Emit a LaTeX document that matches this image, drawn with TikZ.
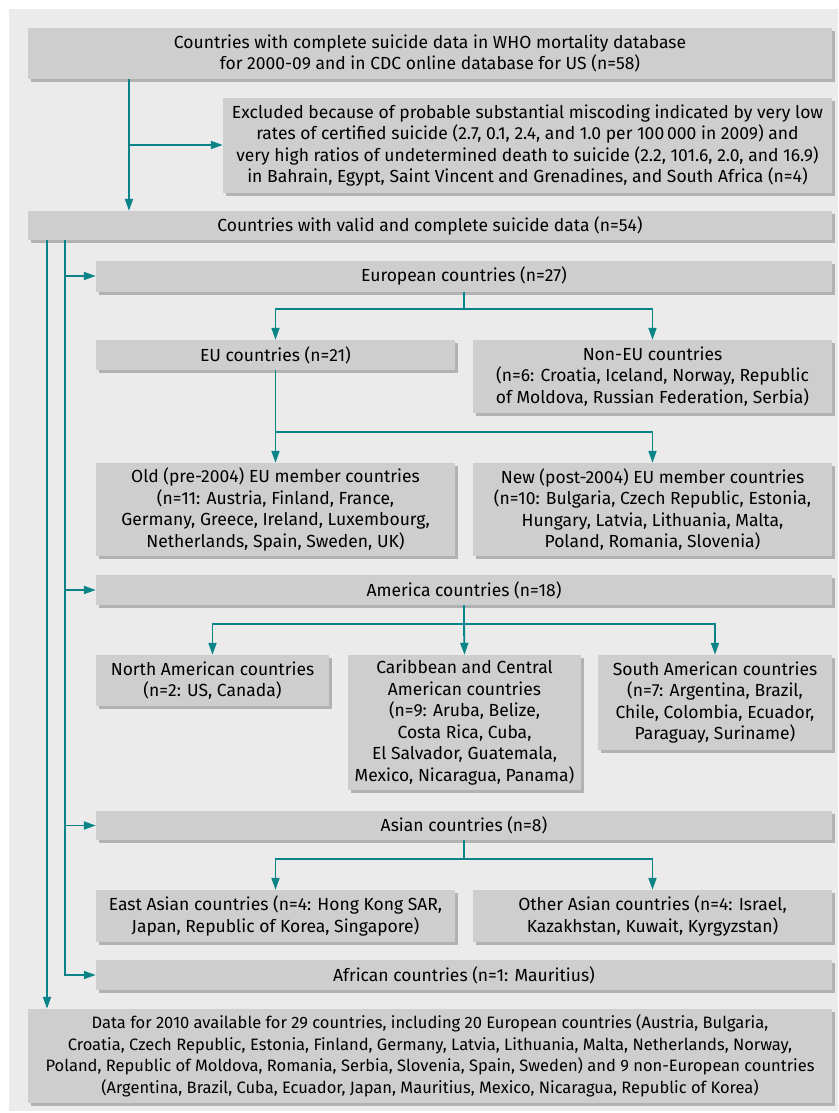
\documentclass[tikz,border=0pt]{standalone}
\usepackage{fontspec}
\setmainfont{Fira Sans}
\usetikzlibrary{arrows.meta,shadows}
\definecolor{panelbg}{RGB}{235,235,235}
\definecolor{boxfill}{RGB}{206,206,206}
\definecolor{boxshadow}{RGB}{178,178,178}
\definecolor{teal}{RGB}{10,132,135}
\tikzset{
  box/.style={fill=boxfill, draw=none, inner sep=0pt, align=center,
    font=\fontsize{17.5}{21.5}\selectfont,
    copy shadow={shadow xshift=3pt, shadow yshift=-3pt, fill=boxshadow, draw=none, opacity=1}},
  smallbox/.style={box, font=\fontsize{16.5}{21.5}\selectfont},
  conn/.style={draw=teal, line width=1.9pt},
  arr/.style={conn, -{Triangle[length=12pt,width=8pt]}}
}
\begin{document}
\begin{tikzpicture}[x=1pt,y=-1pt]
\useasboundingbox (0,0) rectangle (838,1113);
\fill[panelbg] (9,9) rectangle (838,1111);

\node[box, minimum width=804pt, minimum height=51pt] (b1) at (430,53.5)
  {Countries with complete suicide data in WHO mortality database\\for 2000-09 and in CDC online database for US (n=58)};
\node[box, minimum width=609pt, minimum height=94pt] (b2) at (527.5,145.5)
  {Excluded because of probable substantial miscoding indicated by very low\\rates of certified suicide (2.7, 0.1, 2.4, and 1.0 per 100\,000 in 2009) and\\very high ratios of undetermined death to suicide (2.2, 101.6, 2.0, and 16.9)\\in Bahrain, Egypt, Saint Vincent and Grenadines, and South Africa (n=4)};
\node[box, minimum width=804pt, minimum height=29pt] (b3) at (430,225.5)
  {Countries with valid and complete suicide data (n=54)};

\node[box, minimum width=736pt, minimum height=31pt] (eur) at (464,276)
  {European countries (n=27)};
\node[box, minimum width=359pt, minimum height=30pt] (eu) at (275.5,355)
  {EU countries (n=21)};
\node[box, minimum width=359pt, minimum height=73pt] (noneu) at (652.5,376.5)
  {Non-EU countries\\(n=6: Croatia, Iceland, Norway, Republic\\of Moldova, Russian Federation, Serbia)};
\node[box, minimum width=359pt, minimum height=93pt] (old) at (275.5,509.5)
  {Old (pre-2004) EU member countries\\(n=11: Austria, Finland, France,\\Germany, Greece, Ireland, Luxembourg,\\Netherlands, Spain, Sweden, UK)};
\node[box, minimum width=359pt, minimum height=93pt] (new) at (652.5,509.5)
  {New (post-2004) EU member countries\\(n=10: Bulgaria, Czech Republic, Estonia,\\Hungary, Latvia, Lithuania, Malta,\\Poland, Romania, Slovenia)};

\node[box, minimum width=736pt, minimum height=30pt] (amer) at (464,590)
  {America countries (n=18)};
\node[box, minimum width=233pt, minimum height=51pt] (north) at (212.5,680.5)
  {North American countries\\(n=2: US, Canada)};
\node[box, minimum width=233pt, minimum height=135pt] (carib) at (464.5,722.5)
  {Caribbean and Central\\American countries\\(n=9: Aruba, Belize,\\Costa Rica, Cuba,\\El Salvador, Guatemala,\\Mexico, Nicaragua, Panama)};
\node[box, minimum width=234pt, minimum height=95pt] (south) at (715,702.5)
  {South American countries\\(n=7: Argentina, Brazil,\\Chile, Colombia, Ecuador,\\Paraguay, Suriname)};

\node[box, minimum width=736pt, minimum height=29pt] (asian) at (464,825.5)
  {Asian countries (n=8)};
\node[box, minimum width=359pt, minimum height=52pt] (east) at (275.5,916)
  {East Asian countries (n=4: Hong Kong SAR,\\Japan, Republic of Korea, Singapore)};
\node[box, minimum width=359pt, minimum height=52pt] (other) at (652.5,916)
  {Other Asian countries (n=4: Israel,\\Kazakhstan, Kuwait, Kyrgyzstan)};

\node[box, minimum width=736pt, minimum height=30pt] (afr) at (464,975)
  {African countries (n=1: Mauritius)};
\node[smallbox, minimum width=804pt, minimum height=94pt] (final) at (430,1056)
  {Data for 2010 available for 29 countries, including 20 European countries (Austria, Bulgaria,\\Croatia, Czech Republic, Estonia, Finland, Germany, Latvia, Lithuania, Malta, Netherlands, Norway,\\Poland, Republic of Moldova, Romania, Serbia, Slovenia, Spain, Sweden) and 9 non-European countries\\(Argentina, Brazil, Cuba, Ecuador, Japan, Mauritius, Mexico, Nicaragua, Republic of Korea)};

% connectors
\coordinate (j1) at (129,145);
\draw[arr] (b1.south -| j1) -- (b3.north -| j1);
\draw[arr] (j1) -- (b2.west |- j1);

\coordinate (t1) at (47,0);
\coordinate (t2) at (65,0);
\draw[arr] (b3.south -| t1) -- (final.north -| t1);
\draw[arr] (b3.south -| t2) |- (afr.west);
\draw[arr] (t2 |- eur.west) -- (eur.west);
\draw[arr] (t2 |- amer.west) -- (amer.west);
\draw[arr] (t2 |- asian.west) -- (asian.west);

\coordinate (ej) at (464,309);
\draw[conn] (eur.south) -- (ej);
\draw[arr] (ej) -| (eu.north);
\draw[arr] (ej) -| (noneu.north);

\coordinate (euj) at (275.5,432);
\draw[arr] (eu.south) -- (old.north);
\draw[arr] (euj) -| (new.north);

\coordinate (aj) at (464,624);
\draw[conn] (amer.south) -- (aj);
\draw[arr] (aj) -| (north.north);
\draw[arr] (aj) -- (carib.north);
\draw[arr] (aj) -| (south.north);

\coordinate (asj) at (464,859);
\draw[conn] (asian.south) -- (asj);
\draw[arr] (asj) -| (east.north);
\draw[arr] (asj) -| (other.north);
\end{tikzpicture}
\end{document}
